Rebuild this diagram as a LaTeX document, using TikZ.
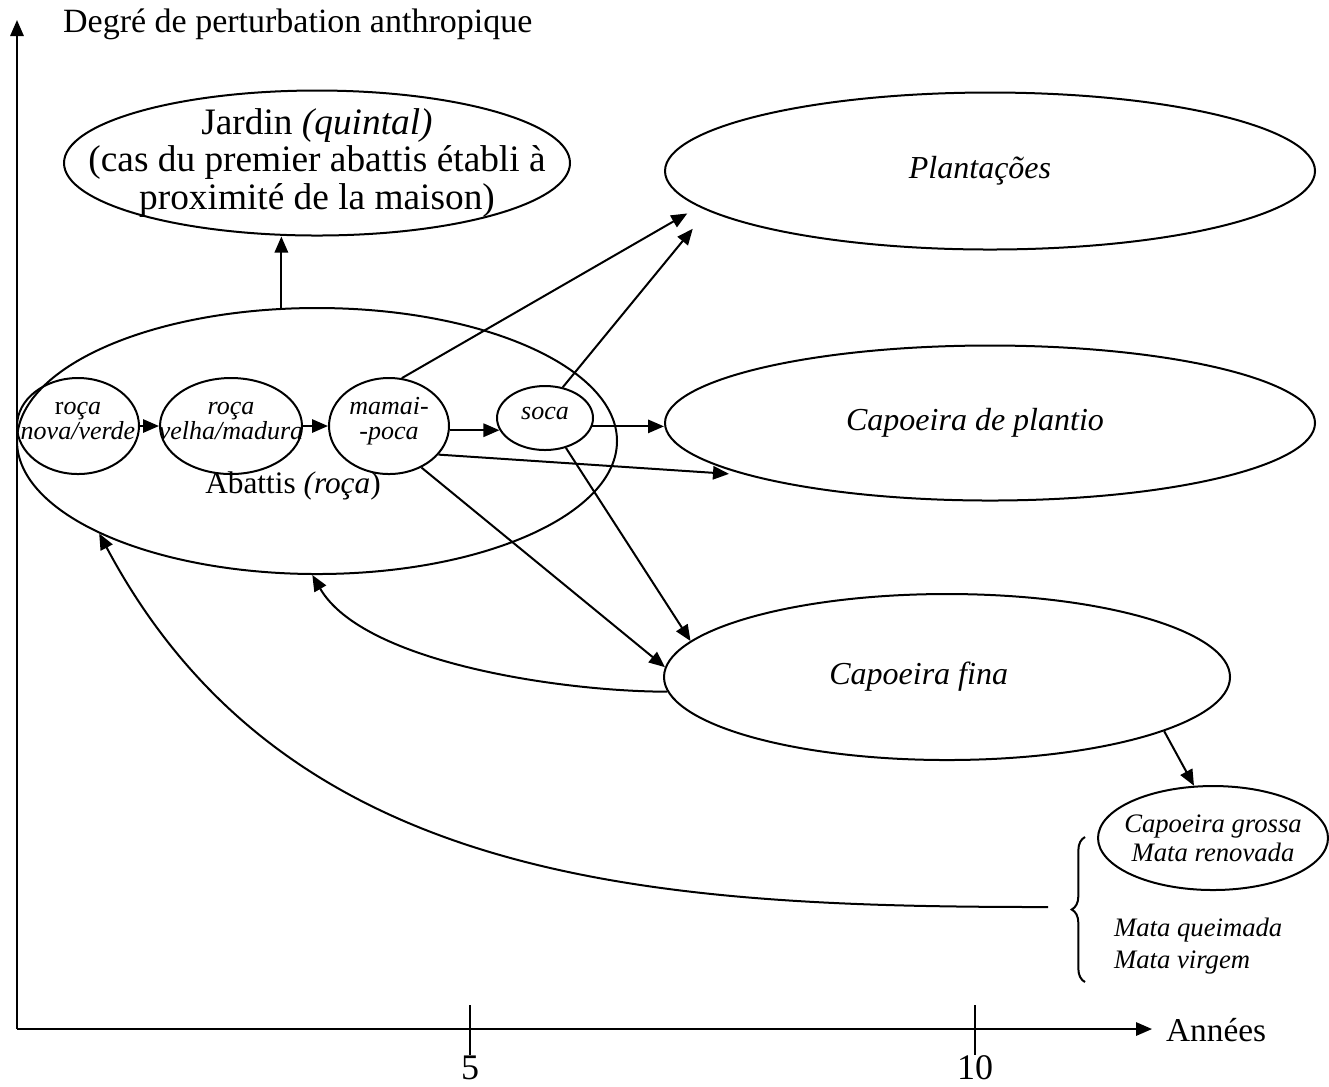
\documentclass[tikz,border=0pt]{standalone}
\usepackage{fontspec}
\setmainfont{Liberation Serif}
\usetikzlibrary{shapes.geometric}
\usetikzlibrary{arrows.meta}
\usetikzlibrary{decorations.pathreplacing}

\begin{document}
\begin{tikzpicture}[x=0.3pt,y=-0.3pt,line width=0.6pt,
  >={Triangle[length=4.8pt,width=4pt]},
  bulle/.style={ellipse,draw,inner sep=0pt},
  grand/.style={font=\fontsize{10.8}{11.3}\selectfont,align=center},
  titre/.style={font=\fontsize{9.6}{11}\selectfont\itshape},
  petit/.style={font=\fontsize{7.8}{7.5}\selectfont\itshape,align=center,yshift=1.5pt},
  moyen/.style={font=\fontsize{8}{9.6}\selectfont\itshape,align=left}]

\useasboundingbox (0,0) rectangle (1329,1086);

% axes
\coordinate (O) at (17,1029);
\coordinate (ymax) at (17,20);
\coordinate (xmax) at (1152,1029);
\draw[->] (O) -- (ymax);
\draw[->] (O) -- (xmax);
\node[grand,font=\fontsize{10.2}{11}\selectfont,anchor=west] (ylab) at (51,24) {Degré de perturbation anthropique};
\node[grand,font=\fontsize{10}{11}\selectfont,anchor=west] (xlab) at (1154,1030) {Années};
\draw (470,1005) -- (470,1055);
\draw (975,1005) -- (975,1055);
\node[grand] (t5) at (470,1068) {5};
\node[grand] (t10) at (975,1068) {10};

% ellipses
\node[bulle,minimum width=151.8pt,minimum height=43.5pt,
  label={[grand,font=\fontsize{11.2}{11.3}\selectfont]center:{Jardin \textit{(quintal)}\\(cas du premier abattis établi à\\proximité de la maison)}}] (jardin) at (317,163) {};
\node[bulle,minimum width=180pt,minimum height=79.8pt] (abattis) at (317,441) {};
\node[grand,font=\fontsize{9.4}{11}\selectfont] (abattislab) at (293,486) {Abattis \textit{(roça})};

\node[bulle,minimum width=36.6pt,minimum height=28.8pt,label={[petit]center:{{\upshape r}oça\\nova/verde}}] (rocanova) at (78,426) {};
\node[bulle,minimum width=42.6pt,minimum height=28.8pt,label={[petit]center:{roça\\velha/madura}}] (rocavelha) at (231,426) {};
\node[bulle,minimum width=36pt,minimum height=28.8pt,label={[petit]center:{mamai-\\-poca}}] (mamai) at (389,426) {};
\node[bulle,minimum width=28.8pt,minimum height=19.2pt,label={[petit]center:soca}] (soca) at (545,418) {};

\node[bulle,minimum width=195pt,minimum height=47.1pt,label={[titre,xshift=-3pt]center:Plantações}] (plantacoes) at (990,171) {};
\node[bulle,minimum width=195pt,minimum height=46.5pt,label={[titre,xshift=-4.5pt]center:Capoeira de plantio}] (plantio) at (990,423) {};
\node[bulle,minimum width=169.8pt,minimum height=49.8pt,label={[titre,xshift=-8.5pt]center:Capoeira fina}] (fina) at (947,677) {};
\node[bulle,minimum width=69pt,minimum height=31.2pt,
  label={[font=\fontsize{8}{8.7}\selectfont\itshape,align=center]center:{Capoeira grossa\\Mata renovada}}] (grossa) at (1213,838) {};
\node[moyen,anchor=west] (mata) at (1102,946) {Mata queimada\\Mata virgem};

% accolade
\draw[decorate,decoration={brace,amplitude=4pt}] (1085,982) -- (1085,837);
\coordinate (retour) at (1048,907);

% fleches
\draw[->] (abattis.105) -- (abattis.105 |- jardin.south);
\draw[->] (rocanova) -- (rocavelha);
\draw[->] (rocavelha) -- (mamai);
\draw[->] (mamai.east |- soca.195) -- (soca.195);
\draw[->] (soca.-10) -- (soca.-10 -| plantio.west);

\draw[->,shorten >=4pt] (mamai.75) -- (plantacoes.187);
\draw[->,shorten >=5pt] (mamai.-30) -- (plantio.192.5);
\draw[->] (mamai.-52) -- (fina.178);
\draw[->,shorten >=7pt] (soca.60) -- (plantacoes.188);
\draw[->] (soca.-55) -- (fina.172);
\draw[->] (fina.-14) -- (grossa.110);

\draw[->] (fina.183) to[out=180,in=-60,looseness=0.7] (abattis.-92);
\draw[->] (retour) to[out=180,in=-62] (abattis.203);

\end{tikzpicture}
\end{document}
